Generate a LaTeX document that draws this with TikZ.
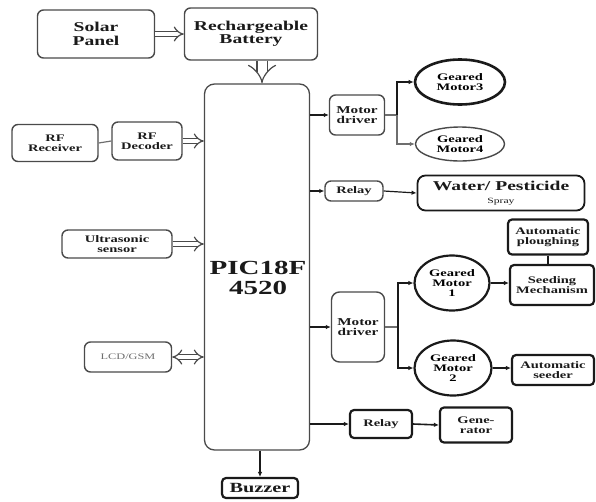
\documentclass[tikz,border=0pt]{standalone}
\usepackage{fontspec}
\setmainfont{Liberation Serif}
\newfontfamily\wideserif[FakeStretch=1.45]{Liberation Serif}
\usetikzlibrary{positioning,arrows.meta,calc,shapes.geometric}
\definecolor{InkDark}{HTML}{1A1A1A}
\definecolor{InkSoft}{HTML}{4A4A4A}
\definecolor{LineGray}{HTML}{6E6E6E}
\newcommand{\fs}[1]{\wideserif\fontsize{#1}{#1}\selectfont\bfseries}
\tikzset{
  blk/.style={draw=InkDark,line width=1.4pt,rounded corners=6pt,align=center,font=\fs{10},text=InkDark,inner sep=2pt},
  softblk/.style={blk,draw=InkSoft,line width=1.4pt},
  heavyblk/.style={blk,line width=2.2pt,rounded corners=4pt,font=\fs{10}},
  motor/.style={ellipse,draw=InkDark,line width=2.2pt,align=center,font=\fs{10},inner sep=0pt},
  hollow/.style={double=white,double distance=4pt,line width=1.2pt,draw=InkSoft,-{Implies}},
  feed/.style={draw=InkDark,line width=1.2pt,-{Latex[length=5pt,width=4.5pt]}},
  wire/.style={draw=LineGray,line width=1.2pt}
}
\newcommand{\blkat}[6]{\node[#1,minimum width=#4pt,minimum height=#5pt] (#2) at (#3) {#6};}
\begin{document}
\begin{tikzpicture}[x=1pt,y=-1pt]
  \useasboundingbox (0,0) rectangle (596,501);
  % supply side
  \blkat{softblk,font=\fs{13.5}}{solar}{96,34}{117}{48}{Solar\\Panel}
  \blkat{softblk,font=\fs{13.5}}{battery}{251,34}{133}{52}{Rechargeable\\Battery}
  % controller
  \node[draw=InkSoft,line width=1.3pt,rounded corners=10pt,minimum width=105pt,minimum height=366pt] (pic) at (257,267) {};
  \node[align=center,font=\fs{20},text=InkDark,inner sep=0pt] (pictext) at (258,278) {PIC18F\\4520};
  % inputs
  \blkat{softblk}{rfrx}{55,143}{86}{37}{RF\\Receiver}
  \blkat{softblk}{rfdec}{147,141}{70}{38}{RF\\Decoder}
  \blkat{softblk}{usonic}{117,244}{110}{28}{Ultrasonic\\sensor}
  \blkat{softblk,text=LineGray,font=\wideserif\fontsize{8.5}{9}\selectfont}{lcd}{128,357}{87}{30}{LCD/GSM}
  % drive and actuators
  \blkat{softblk,font=\fs{10.5}}{mdrvA}{357,115}{55}{40}{Motor\\driver}
  \node[motor,minimum width=90pt,minimum height=45pt,line width=2.6pt] (gmA) at (460,82) {Geared\\Motor3};
  \node[motor,draw=InkSoft,line width=1.4pt,minimum width=89pt,minimum height=34pt] (gmB) at (460,144) {Geared\\Motor4};
  \blkat{softblk,font=\fs{10}}{relayA}{354,191}{58}{20}{Relay}
  \blkat{blk,line width=1.8pt,rounded corners=8pt,font=\fs{13.5}}{spray}{501,193}{167}{35}{Water/ Pesticide\\{\mdseries\fontsize{8}{9}\selectfont Spray}}
  \blkat{softblk,font=\fs{10.5},rounded corners=8pt}{mdrvB}{358,327}{53}{70}{Motor\\driver}
  \node[motor,minimum width=75pt,minimum height=55pt] (gmC) at (452,283) {Geared\\Motor\\1};
  \node[motor,minimum width=77pt,minimum height=55pt] (gmD) at (453,368) {Geared\\Motor\\2};
  \blkat{heavyblk}{plough}{548,237}{80}{35}{Automatic\\ploughing}
  \blkat{heavyblk}{seedmech}{552,285}{84}{40}{Seeding\\Mechanism}
  \blkat{heavyblk}{seeder}{553,370}{82}{30}{Automatic\\seeder}
  \blkat{heavyblk}{relayB}{381,424}{62}{28}{Relay}
  \blkat{heavyblk}{gen}{476,425}{72}{35}{Gene-\\rator}
  \blkat{heavyblk,font=\fs{14}}{buzzer}{260,488}{76}{20}{Buzzer}
  % power flow
  \draw[hollow] (solar.east) -- (battery.west);
  \draw[hollow,double distance=9pt] (battery.south -| 262,0) -- (pic.north -| 262,0);
  % inputs into the controller
  \draw[wire] (rfrx.east) -- (rfdec.west);
  \draw[hollow] (rfdec.east) -- (rfdec.east -| pic.west);
  \draw[hollow] (usonic.east) -- (usonic.east -| pic.west);
  \draw[hollow,{Implies}-{Implies}] (lcd.east) -- (lcd.east -| pic.west);
  % upper driver branch
  \coordinate (brA) at (397,115);
  \draw[feed] (pic.east |- mdrvA.west) -- (mdrvA.west);
  \draw[wire] (mdrvA.east) -- (brA);
  \draw[feed] (brA) |- (gmA.west);
  \draw[wire,-{Latex[length=5pt,width=4.5pt]}] (brA) |- (gmB.west);
  % spray
  \draw[feed] (pic.east |- relayA.west) -- (relayA.west);
  \draw[feed] (relayA.east) -- (spray.west);
  % lower driver branch
  \coordinate (brB) at (398,327);
  \draw[feed] (pic.east |- mdrvB.west) -- (mdrvB.west);
  \draw[wire] (mdrvB.east) -- (brB);
  \draw[feed,line width=1.6pt] (brB) |- (gmC.west);
  \draw[feed,line width=1.6pt] (brB) |- (gmD.west);
  \draw[feed,line width=1.6pt] (gmC.east) -- (gmC.east -| seedmech.west);
  \draw[draw=InkDark,line width=1.8pt] (plough.south) -- (plough.south |- seedmech.north);
  \draw[feed,line width=1.6pt] (gmD.east) -- (gmD.east -| seeder.west);
  % relay and buzzer outputs
  \draw[feed] (pic.east |- relayB.west) -- (relayB.west);
  \draw[feed,line width=1.6pt] (relayB.east) -- (gen.west);
  \draw[feed] (pic.south -| buzzer.north) -- (buzzer.north);
\end{tikzpicture}
\end{document}
